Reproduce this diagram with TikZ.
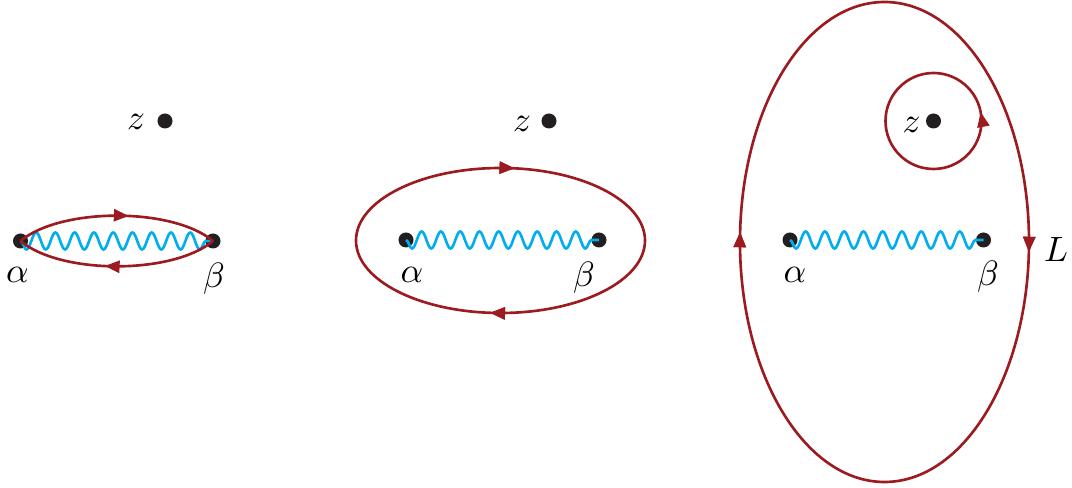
\documentclass[tikz,border=0pt]{standalone}
\usetikzlibrary{decorations.pathmorphing,decorations.markings,arrows.meta}
\definecolor{loopred}{HTML}{9B1B20}
\definecolor{wavecyan}{HTML}{00AEEF}
\definecolor{dotblack}{HTML}{231F20}
\tikzset{
  x=0.01cm, y=0.01cm,
  dotnode/.style={circle, fill=dotblack, inner sep=0pt, minimum size=0.15cm},
  lbl/.style={inner sep=0pt},
  wavy/.style={wavecyan, line width=0.75pt, decorate,
    decoration={snake, mirror, segment length=0.1925cm, amplitude=0.085cm}},
  redline/.style={loopred, line width=0.75pt},
  tipat/.style={postaction={decorate}, decoration={markings,
    mark=at position #1 with {\arrow{Triangle[length=0.15cm,width=0.12cm]}}}},
}
\begin{document}
\begin{tikzpicture}
\useasboundingbox (0,0) rectangle (1072,488);
% ---------- panel 1 ----------
\node[dotnode] (a1) at (20.5,247) {};
\node[dotnode] (b1) at (213,247) {};
\node[dotnode] (z1) at (165,367) {};
\node[lbl] (zl1) at (136,366) {$z$};
\node[lbl] (al1) at (17.5,213) {$\alpha$};
\node[lbl] (bl1) at (214,209) {$\beta$};
\draw[wavy] (a1.center) -- (b1.center);
\draw[redline, tipat=0.56] (a1.center) to[bend left=40, looseness=0.7] (b1.center);
\draw[redline, tipat=0.56] (b1.center) to[bend left=40, looseness=0.7] (a1.center);
% ---------- panel 2 ----------
\node[dotnode] (a2) at (406,248) {};
\node[dotnode] (b2) at (599,248) {};
\node[dotnode] (z2) at (549,367) {};
\node[lbl] (zl2) at (522,364) {$z$};
\node[lbl] (al2) at (412,213) {$\alpha$};
\node[lbl] (bl2) at (584,210) {$\beta$};
\draw[wavy] (a2.center) -- (b2.center);
\draw[redline, tipat=0.27, tipat=0.765] (356,247.5) arc[start angle=180, end angle=-180, x radius=144.5, y radius=72.5];
% ---------- panel 3 ----------
\node[dotnode] (a3) at (790,248) {};
\node[dotnode] (b3) at (983.5,248) {};
\node[dotnode] (z3) at (933.5,367) {};
\node[lbl] (zl3) at (911.5,363) {$z$};
\node[lbl] (al3) at (795,213) {$\alpha$};
\node[lbl] (bl3) at (988,211) {$\beta$};
\node[lbl] (L) at (1056,239) {$L$};
\draw[wavy] (a3.center) -- (b3.center);
\draw[redline, tipat=0.03] (981.5,367) arc[start angle=0, end angle=360, radius=48];
\draw[redline, tipat=0.258, tipat=0.758] (884.5,486) arc[start angle=90, end angle=-270, x radius=144.5, y radius=240];
\end{tikzpicture}
\end{document}
